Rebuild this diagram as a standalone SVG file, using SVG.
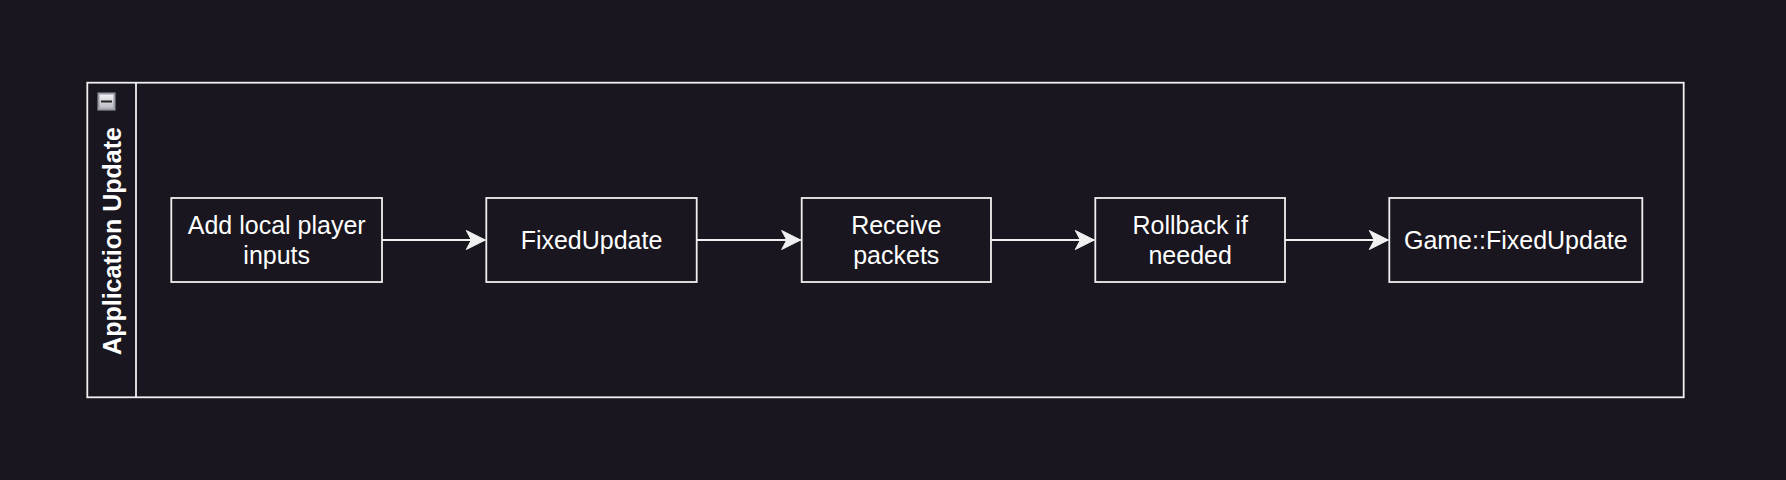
<svg xmlns="http://www.w3.org/2000/svg" width="1786" height="480" viewBox="0 0 1786 480">
<style>
.box{fill:#19161f;stroke:#f0f0f0;stroke-width:1.8}
.lbl{font-family:"Liberation Sans",Arial,sans-serif;font-size:25px;fill:#ffffff;text-anchor:middle}
.title{font-family:"Liberation Sans",Arial,sans-serif;font-size:25px;font-weight:bold;fill:#ffffff;text-anchor:middle}
.edge{fill:none;stroke:#f0f0f0;stroke-width:1.8}
</style>
<defs>
<marker id="arr" markerUnits="userSpaceOnUse" markerWidth="22" markerHeight="22" viewBox="-20 -11 22 22" refX="0" refY="0" orient="auto">
<path d="M0,0 L-19,-9.5 L-14,0 L-19,9.5 Z" fill="#f0f0f0" stroke="#f0f0f0" stroke-width="1"/>
</marker>
<linearGradient id="ig" x1="0" y1="0" x2="0" y2="1">
<stop offset="0" stop-color="#f2f2f4"/>
<stop offset="1" stop-color="#b8b8c0"/>
</linearGradient>
</defs>
<rect width="1786" height="480" fill="#19161f"/>
<g id="pool">
<rect x="87.3" y="82.7" width="1596.4" height="314.6" class="box"/>
<line x1="136" y1="82.7" x2="136" y2="397.3" stroke="#f0f0f0" stroke-width="1.8"/>
<text class="title" transform="translate(120.5,241) rotate(-90)">Application Update</text>
<rect x="97.5" y="92.5" width="18" height="18" fill="#9a9aa4"/>
<rect x="99.5" y="94.5" width="14" height="14" fill="url(#ig)"/>
<line x1="101" y1="101.5" x2="112" y2="101.5" stroke="#222" stroke-width="2"/>
</g>
<g id="n1">
<rect x="171.3" y="198" width="210.7" height="84" class="box"/>
<text class="lbl" x="276.7" y="234">Add local player</text>
<text class="lbl" x="276.7" y="264">inputs</text>
</g>
<g id="n2">
<rect x="486.3" y="198" width="210.4" height="84" class="box"/>
<text class="lbl" x="591.5" y="249">FixedUpdate</text>
</g>
<g id="n3">
<rect x="801.7" y="198" width="189.3" height="84" class="box"/>
<text class="lbl" x="896.3" y="234">Receive</text>
<text class="lbl" x="896.3" y="264">packets</text>
</g>
<g id="n4">
<rect x="1095.3" y="198" width="189.7" height="84" class="box"/>
<text class="lbl" x="1190.2" y="234">Rollback if</text>
<text class="lbl" x="1190.2" y="264">needed</text>
</g>
<g id="n5">
<rect x="1389.3" y="198" width="253" height="84" class="box"/>
<text class="lbl" x="1515.8" y="249">Game::FixedUpdate</text>
</g>
<g id="edges">
<line class="edge" x1="382" y1="240" x2="485.3" y2="240" marker-end="url(#arr)"/>
<line class="edge" x1="696.7" y1="240" x2="800.7" y2="240" marker-end="url(#arr)"/>
<line class="edge" x1="991" y1="240" x2="1094.3" y2="240" marker-end="url(#arr)"/>
<line class="edge" x1="1285" y1="240" x2="1388.3" y2="240" marker-end="url(#arr)"/>
</g>
</svg>
